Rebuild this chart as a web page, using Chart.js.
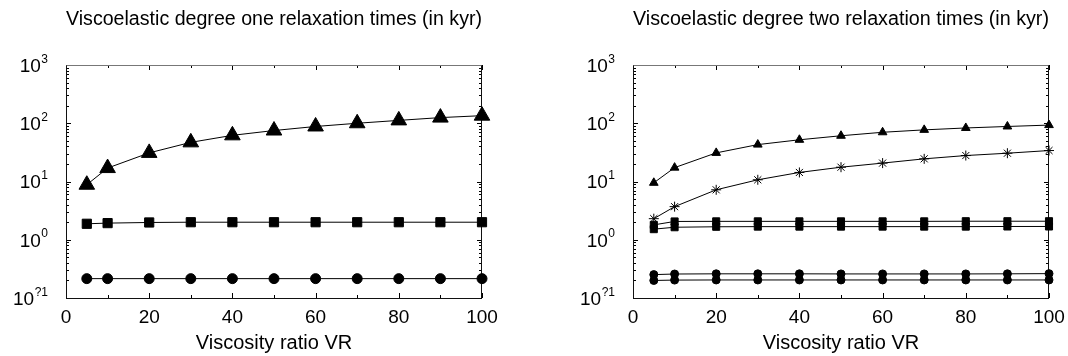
<!DOCTYPE html>
<html>
<head>
<meta charset="utf-8">
<script src="https://cdn.jsdelivr.net/npm/chart.js@4/dist/chart.umd.min.js"></script>
<style>
  body { margin: 0; background: #fff; }
  .wrap { display: flex; width: 1068px; height: 356px; }
  canvas { display: block; }
</style>
</head>
<body>
<div class="wrap">
  <canvas id="leftChart" width="534" height="356"></canvas>
  <canvas id="rightChart" width="534" height="356"></canvas>
</div>
<script>
// viscosity ratios (x values), shared by both panels
const viscosityRatio = [5, 10, 20, 30, 40, 50, 60, 70, 80, 90, 100];

// degree one relaxation times (kyr)
const oneTriangles = [8.8, 17, 31, 47, 62, 75, 88, 100, 112, 125, 135];
const oneSquares   = [1.88, 1.93, 1.98, 2.0, 2.0, 2.0, 2.0, 2.0, 2.0, 2.0, 2.0];
const oneCircles   = [0.215, 0.215, 0.215, 0.215, 0.215, 0.215, 0.215, 0.215, 0.215, 0.215, 0.215];

// degree two relaxation times (kyr)
const twoTriangles    = [9.5, 17.3, 31, 43, 52, 61, 70, 77, 83, 88, 93];
const twoStars        = [2.3, 3.7, 7.2, 10.7, 14.3, 17.6, 20.7, 24.5, 27.9, 30.6, 34];
const twoSquaresUpper = [1.8, 2.06, 2.07, 2.07, 2.07, 2.07, 2.07, 2.07, 2.08, 2.08, 2.08];
const twoSquaresLower = [1.52, 1.64, 1.67, 1.68, 1.68, 1.68, 1.68, 1.68, 1.68, 1.69, 1.69];
const twoCirclesUpper = [0.252, 0.258, 0.26, 0.26, 0.26, 0.259, 0.259, 0.259, 0.259, 0.26, 0.262];
const twoCirclesLower = [0.2, 0.203, 0.204, 0.204, 0.204, 0.204, 0.204, 0.204, 0.204, 0.204, 0.204];

// axes
const xMajorTicks = [0, 20, 40, 60, 80, 100];
const xMinorTicks = [10, 30, 50, 70, 90];
const yMajorTicks = [0.1, 1, 10, 100, 1000];
const yTickExponents = ['?1', '0', '1', '2', '3']; // gnuplot printed the minus as "?"

const FONT = '"Liberation Sans", Arial, Helvetica, sans-serif';

function points(ys) {
    return viscosityRatio.map((v, i) => ({ x: v, y: ys[i] }));
}

function series(ys, style, radius) {
    return {
        data: points(ys),
        borderColor: '#000',
        backgroundColor: '#000',
        borderWidth: 1,
        pointStyle: style,
        pointRadius: radius,
        pointHoverRadius: radius,
        pointBackgroundColor: '#000',
        pointBorderColor: '#000',
        pointBorderWidth: 1,
        tension: 0,
        clip: false
    };
}

// gnuplot-like frame with inward ticks and 10^n labels
const gnuplotFrame = {
    id: 'gnuplotFrame',
    beforeDatasetsDraw(chart) {
        const { ctx, chartArea: a, scales: { x, y } } = chart;
        ctx.save();
        ctx.lineWidth = 1;
        ctx.strokeStyle = '#000';
        ctx.beginPath();
        // x ticks, bottom and top
        const xTick = (v, len) => {
            const px = Math.round(x.getPixelForValue(v)) + 0.5;
            ctx.moveTo(px, a.bottom); ctx.lineTo(px, a.bottom - len);
            ctx.moveTo(px, a.top); ctx.lineTo(px, a.top + len);
        };
        xMajorTicks.forEach(v => xTick(v, 5));
        xMinorTicks.forEach(v => xTick(v, 3));
        // y ticks, left and right
        const yTick = (v, len) => {
            const py = Math.round(y.getPixelForValue(v)) + 0.5;
            ctx.moveTo(a.left, py); ctx.lineTo(a.left + len, py);
            ctx.moveTo(a.right, py); ctx.lineTo(a.right - len, py);
        };
        yMajorTicks.forEach(v => yTick(v, 5));
        for (let d = 0; d < yMajorTicks.length - 1; d++) {
            for (let m = 2; m <= 9; m++) yTick(yMajorTicks[d] * m, 3);
        }
        ctx.stroke();

        // frame
        const l = a.left + 0.5, r = Math.round(a.right) - 0.5, t = a.top + 0.5, b = Math.round(a.bottom) + 0.5;
        ctx.strokeStyle = '#111';
        ctx.beginPath();
        ctx.moveTo(l, t); ctx.lineTo(l, b); ctx.lineTo(r, b); ctx.lineTo(r, t);
        ctx.stroke();
        ctx.strokeStyle = '#777';
        ctx.beginPath();
        ctx.moveTo(l, t); ctx.lineTo(r, t);
        ctx.stroke();

        // y labels
        ctx.fillStyle = '#000';
        ctx.textBaseline = 'alphabetic';
        yMajorTicks.forEach((v, i) => {
            const py = y.getPixelForValue(v);
            const exp = yTickExponents[i];
            ctx.font = '12px ' + FONT;
            const expW = ctx.measureText(exp).width;
            const right = a.left - 18;
            ctx.textAlign = 'left';
            ctx.fillText(exp, right - expW, py - 2.5);
            ctx.font = '19px ' + FONT;
            ctx.textAlign = 'right';
            ctx.fillText('10', right - expW - 0.5, py + 6.8);
        });
        ctx.restore();
    }
};

function makeChart(id, title, datasets, pad) {
    return new Chart(document.getElementById(id), {
        type: 'line',
        data: { datasets: datasets },
        options: {
            responsive: false,
            animation: false,
            devicePixelRatio: 1,
            layout: { padding: { left: pad.left, right: pad.right, top: 0, bottom: 0 } },
            plugins: {
                legend: { display: false },
                tooltip: { enabled: false },
                title: {
                    display: true,
                    text: title,
                    color: '#000',
                    fullSize: false,
                    font: { family: FONT, size: 20, weight: 'normal' },
                    padding: { top: 7, bottom: 34 }
                }
            },
            scales: {
                x: {
                    type: 'linear',
                    min: 0,
                    max: 100,
                    grid: { display: false },
                    border: { display: false },
                    ticks: {
                        stepSize: 20,
                        color: '#000',
                        padding: 0,
                        font: { family: FONT, size: 19 }
                    },
                    title: {
                        display: true,
                        text: 'Viscosity ratio VR',
                        color: '#000',
                        font: { family: FONT, size: 20 },
                        padding: { top: 0, bottom: 1 }
                    },
                    afterFit: s => { s.height = 58; }
                },
                y: {
                    type: 'logarithmic',
                    min: 0.1,
                    max: 1000,
                    display: false
                }
            }
        },
        plugins: [gnuplotFrame]
    });
}

makeChart('leftChart', 'Viscoelastic degree one relaxation times (in kyr)', [
    series(oneTriangles, 'triangle', 9),
    series(oneSquares, 'rect', 6.5),
    series(oneCircles, 'circle', 5)
], { left: 66, right: 52 });

makeChart('rightChart', 'Viscoelastic degree two relaxation times (in kyr)', [
    series(twoTriangles, 'triangle', 5),
    series(twoStars, 'star', 5),
    series(twoSquaresUpper, 'rect', 5),
    series(twoSquaresLower, 'rect', 5),
    series(twoCirclesUpper, 'circle', 4),
    series(twoCirclesLower, 'circle', 4)
], { left: 99, right: 19 });
</script>
</body>
</html>
